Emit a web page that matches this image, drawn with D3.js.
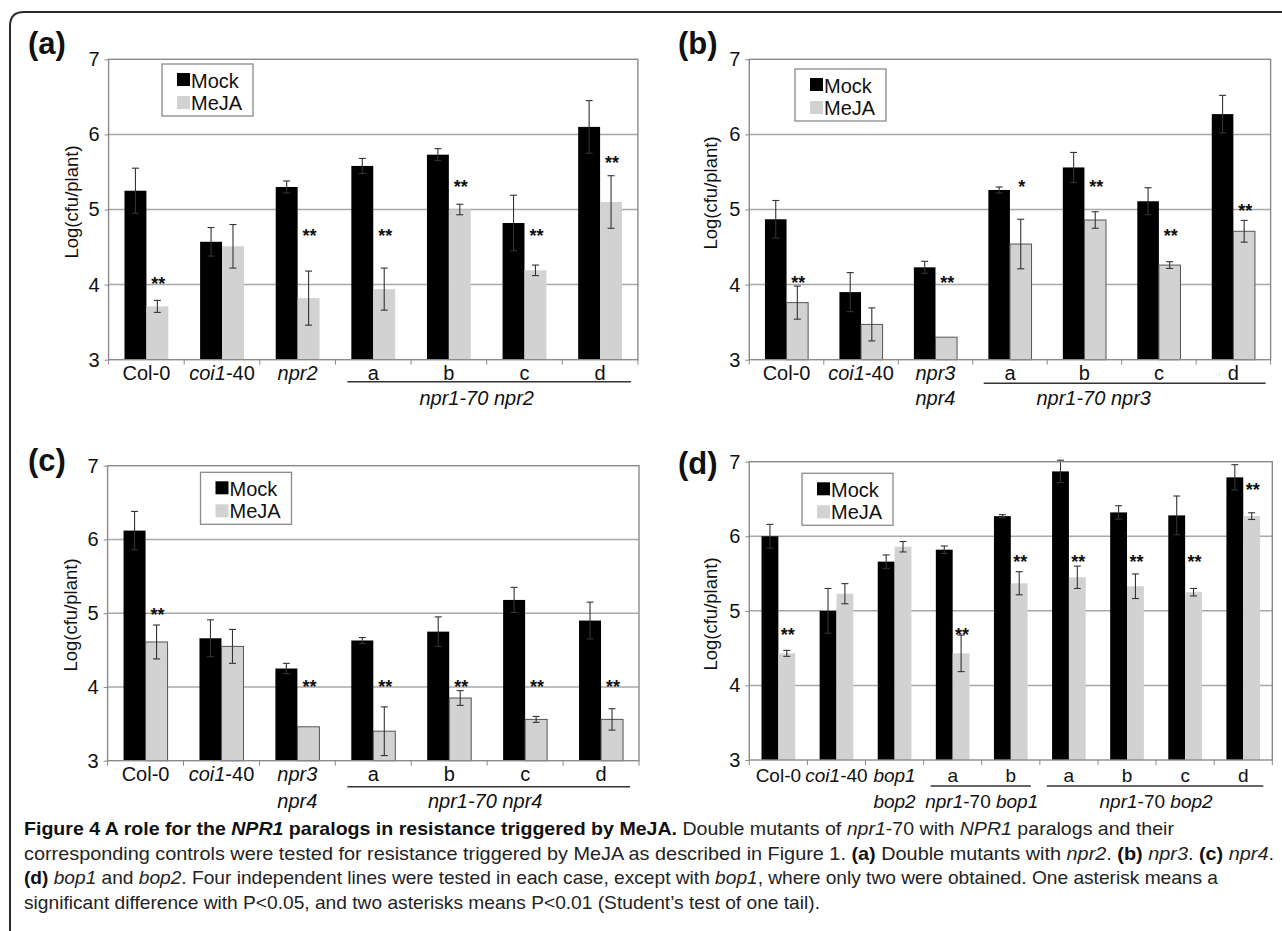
<!DOCTYPE html>
<html>
<head>
<meta charset="utf-8">
<script src="https://cdn.jsdelivr.net/npm/d3@7"></script>
<style>
  html, body { margin: 0; padding: 0; background: #fff; }
  svg { display: block; }
  text { font-family: "Liberation Sans", Arial, sans-serif; }
</style>
</head>
<body>
<svg id="fig" width="1282" height="931"></svg>
<script>
// ---------------- DATA ----------------
const yTicks = [3, 4, 5, 6, 7];
const seriesNames = ["Mock", "MeJA"];

// Panel (a)
const catsA = ["Col-0", "*coi1*-40", "*npr2*", "a", "b", "c", "d"];
const mockA = [5.25, 4.57, 5.30, 5.58, 5.73, 4.82, 6.10];
const mockErrA = [0.30, 0.19, 0.08, 0.10, 0.08, 0.37, 0.35];
const mejaA = [3.71, 4.51, 3.82, 3.94, 5.00, 4.19, 5.10];
const mejaErrA = [0.08, 0.29, 0.36, 0.28, 0.07, 0.07, 0.35];
const sigA = ["**", "", "**", "**", "**", "**", "**"];
const sigYA = [4.06, null, 4.70, 4.70, 5.35, 4.70, 5.67];
const groupsA = [{ from: 3, to: 6, label: "*npr1-70 npr2*" }];

// Panel (b)
const catsB = ["Col-0", "*coi1*-40", "*npr3*\n*npr4*", "a", "b", "c", "d"];
const mockB = [4.87, 3.90, 4.23, 5.26, 5.56, 5.11, 6.27];
const mockErrB = [0.25, 0.26, 0.08, 0.04, 0.20, 0.18, 0.25];
const mejaB = [3.76, 3.47, 3.30, 4.54, 4.86, 4.26, 4.71];
const mejaErrB = [0.22, 0.22, 0, 0.33, 0.11, 0.045, 0.145];
const sigB = ["**", "", "**", "*", "**", "**", "**"];
const sigYB = [4.07, null, 4.07, 5.35, 5.35, 4.70, 5.03];
const groupsB = [{ from: 3, to: 6, label: "*npr1-70 npr3*" }];

// Panel (c)
const catsC = ["Col-0", "*coi1*-40", "*npr3*\n*npr4*", "a", "b", "c", "d"];
const mockC = [6.12, 4.66, 4.25, 4.63, 4.75, 5.18, 4.90];
const mockErrC = [0.26, 0.25, 0.07, 0.04, 0.20, 0.17, 0.25];
const mejaC = [4.61, 4.55, 3.46, 3.40, 3.85, 3.56, 3.56];
const mejaErrC = [0.23, 0.23, 0, 0.33, 0.10, 0.04, 0.145];
const sigC = ["**", "", "**", "**", "**", "**", "**"];
const sigYC = [5.03, null, 4.05, 4.05, 4.05, 4.05, 4.05];
const groupsC = [{ from: 3, to: 6, label: "*npr1-70 npr4*" }];

// Panel (d)
const catsD = ["Col-0", "*coi1*-40", "*bop1*\n*bop2*", "a", "b", "a", "b", "c", "d"];
const mockD = [6.00, 5.00, 5.66, 5.82, 6.27, 6.87, 6.32, 6.28, 6.79];
const mockErrD = [0.16, 0.30, 0.09, 0.05, 0.02, 0.15, 0.09, 0.26, 0.17];
const mejaD = [4.43, 5.23, 5.86, 4.43, 5.37, 5.45, 5.33, 5.25, 6.27];
const mejaErrD = [0.04, 0.135, 0.07, 0.245, 0.155, 0.15, 0.165, 0.05, 0.045];
const sigD = ["**", "", "", "**", "**", "**", "**", "**", "**"];
const sigYD = [4.73, null, null, 4.73, 5.71, 5.71, 5.71, 5.71, 6.68];
const groupsD = [
  { from: 3, to: 4, label: "*npr1*-70 *bop1*" },
  { from: 5, to: 8, label: "*npr1*-70 *bop2*" }
];

const captionLines = [
  "**Figure 4 A role for the _NPR1_ paralogs in resistance triggered by MeJA.** Double mutants of _npr1_-70 with _NPR1_ paralogs and their",
  "corresponding controls were tested for resistance triggered by MeJA as described in Figure 1. **(a)** Double mutants with _npr2_. **(b)** _npr3_. **(c)** _npr4_.",
  "**(d)** _bop1_ and _bop2_. Four independent lines were tested in each case, except with _bop1_, where only two were obtained. One asterisk means a",
  "significant difference with P<0.05, and two asterisks means P<0.01 (Student\u2019s test of one tail)."
];

// ---------------- LAYOUT ----------------
const panels = [
  { tag: "(a)", tagX: 28, tagY: 54, left: 108.6, right: 637.9, top: 59.3, bottom: 359.7,
    legX: 162, legY: 64, titleX: 71, titleY: 202, row1: 13, uline: 22, row2: 38, mejaStroke: false, lblSize: 20,
    cats: catsA, mock: mockA, mockErr: mockErrA, meja: mejaA, mejaErr: mejaErrA, sig: sigA, sigY: sigYA, groups: groupsA,
    ulIn: [12, 7], glShift: -10 },
  { tag: "(b)", tagX: 678, tagY: 54, left: 749.3, right: 1270.6, top: 59.3, bottom: 359.7,
    legX: 795, legY: 69, titleX: 710, titleY: 193, row1: 13, uline: 23.5, row2: 38, mejaStroke: true, lblSize: 20,
    cats: catsB, mock: mockB, mockErr: mockErrB, meja: mejaB, mejaErr: mejaErrB, sig: sigB, sigY: sigYB, groups: groupsB,
    ulIn: [11, 5], glShift: -28 },
  { tag: "(c)", tagX: 28, tagY: 471, left: 107.6, right: 639, top: 465.7, bottom: 760.7,
    legX: 200.5, legY: 472.3, titleX: 70, titleY: 615, row1: 13, uline: 26, row2: 40, mejaStroke: true, lblSize: 20,
    cats: catsC, mock: mockC, mockErr: mockErrC, meja: mejaC, mejaErr: mejaErrC, sig: sigC, sigY: sigYC, groups: groupsC,
    ulIn: [12, 9], glShift: -2 },
  { tag: "(d)", tagX: 678, tagY: 474, left: 749.3, right: 1272.3, top: 461.7, bottom: 760,
    legX: 802, legY: 473.3, titleX: 710, titleY: 614, row1: 15, uline: 26, row2: 41, mejaStroke: false, lblSize: 19,
    cats: catsD, mock: mockD, mockErr: mockErrD, meja: mejaD, mejaErr: mejaErrD, sig: sigD, sigY: sigYD, groups: groupsD,
    ulIn: [7, 9], glShift: 0 }
];

const svg = d3.select("#fig");
const GRAY = "#d2d2d2";

// figure border
svg.append("path")
  .attr("d", "M10,945 L10,26 Q10,12 24,12 L1300,12")
  .attr("fill", "none").attr("stroke", "#2a2a2a").attr("stroke-width", 2);

function segs(s, mark) {
  const re = mark === "*" ? /(\*[^*]+\*)/ : /(\*\*[^*]+\*\*|_[^_]+_)/;
  return s.split(re).filter(t => t.length);
}

function addRich(textSel, s) {
  segs(s, "*").forEach(t => {
    const it = t.startsWith("*");
    textSel.append("tspan").attr("font-style", it ? "italic" : "normal").text(it ? t.slice(1, -1) : t);
  });
}

panels.forEach(p => {
  const n = p.cats.length;
  const g = svg.append("g");
  const x = d3.scaleBand().domain(d3.range(n)).range([p.left, p.right]).paddingInner(0).paddingOuter(0);
  const y = d3.scaleLinear().domain([3, 7]).range([p.bottom, p.top]);
  const w = x.bandwidth() / 3.45;

  // panel tag
  g.append("text").attr("x", p.tagX).attr("y", p.tagY)
    .attr("font-size", 31).attr("font-weight", "bold").attr("fill", "#111").text(p.tag);

  // plot bg + grid
  g.append("rect").attr("x", p.left).attr("y", p.top).attr("width", p.right - p.left).attr("height", p.bottom - p.top)
    .attr("fill", "#fff");
  g.selectAll(".grid").data(yTicks.slice(1, -1)).join("line")
    .attr("x1", p.left).attr("x2", p.right).attr("y1", d => y(d)).attr("y2", d => y(d))
    .attr("stroke", "#a8a8a8").attr("stroke-width", 1.5);

  // y axis
  const ya = g.append("g").attr("transform", `translate(${p.left},0)`)
    .call(d3.axisLeft(y).tickValues(yTicks).tickSize(4).tickPadding(5).tickFormat(d3.format("d")));
  ya.select(".domain").remove();
  ya.selectAll(".tick line").attr("stroke", "#888");
  ya.selectAll(".tick text").attr("font-size", 20).attr("fill", "#111")
    .attr("font-family", "'Liberation Sans', Arial, sans-serif");

  // y title
  g.append("text").attr("transform", `translate(${p.titleX},${p.titleY}) rotate(-90)`)
    .attr("text-anchor", "middle").attr("dominant-baseline", "central")
    .attr("font-size", 18.5).attr("fill", "#111").text("Log(cfu/plant)");

  // bars
  const idx = d3.range(n);
  g.selectAll(".mock").data(idx).join("rect")
    .attr("x", i => x(i) + x.bandwidth() / 2 - w).attr("width", w)
    .attr("y", i => y(p.mock[i])).attr("height", i => y(3) - y(p.mock[i]))
    .attr("fill", "#000");
  g.selectAll(".meja").data(idx).join("rect")
    .attr("x", i => x(i) + x.bandwidth() / 2).attr("width", w)
    .attr("y", i => y(p.meja[i])).attr("height", i => y(3) - y(p.meja[i]))
    .attr("fill", GRAY)
    .attr("stroke", p.mejaStroke ? "#555" : "none").attr("stroke-width", p.mejaStroke ? 1 : 0);

  // error bars
  function errBars(vals, errs, cxOff) {
    const eg = g.append("g").attr("stroke", "#333").attr("stroke-width", 1.1);
    idx.filter(i => errs[i] > 0).forEach(i => {
      const cx = x(i) + x.bandwidth() / 2 + cxOff;
      const y1 = y(vals[i] + errs[i]), y2 = y(vals[i] - errs[i]);
      eg.append("line").attr("x1", cx).attr("x2", cx).attr("y1", y1).attr("y2", y2);
      eg.append("line").attr("x1", cx - 3.5).attr("x2", cx + 3.5).attr("y1", y1).attr("y2", y1);
      eg.append("line").attr("x1", cx - 3.5).attr("x2", cx + 3.5).attr("y1", y2).attr("y2", y2);
    });
  }
  errBars(p.mock, p.mockErr, -w / 2);
  errBars(p.meja, p.mejaErr, w / 2);

  // significance stars
  g.selectAll(".sig").data(idx.filter(i => p.sig[i])).join("text")
    .attr("x", i => x(i) + x.bandwidth() / 2 + w / 2 + 1)
    .attr("y", i => y(p.sigY[i]) + 10)
    .attr("text-anchor", "middle").attr("font-size", 18).attr("font-weight", "bold").attr("fill", "#111")
    .text(i => p.sig[i]);

  // frame
  g.append("rect").attr("x", p.left).attr("y", p.top).attr("width", p.right - p.left).attr("height", p.bottom - p.top)
    .attr("fill", "none").attr("stroke", "#8a8a8a").attr("stroke-width", 1.4);

  // x ticks at band boundaries
  const bounds = d3.range(n + 1).map(i => i < n ? x(i) : x(n - 1) + x.bandwidth());
  g.selectAll(".xt").data(bounds).join("line")
    .attr("x1", d => d).attr("x2", d => d).attr("y1", p.bottom).attr("y2", p.bottom + 5)
    .attr("stroke", "#888").attr("stroke-width", 1);

  // x labels
  idx.forEach(i => {
    const lines = p.cats[i].split("\n");
    lines.forEach((ln, k) => {
      const t = g.append("text").attr("x", x(i) + x.bandwidth() / 2)
        .attr("y", p.bottom + (k === 0 ? p.row1 : p.row2))
        .attr("text-anchor", "middle").attr("dominant-baseline", "central")
        .attr("font-size", p.lblSize).attr("fill", "#111");
      addRich(t, ln);
    });
  });

  // group underlines + labels
  p.groups.forEach(gr => {
    const x0 = x(gr.from) + p.ulIn[0], x1 = x(gr.to) + x.bandwidth() - p.ulIn[1];
    g.append("line").attr("x1", x0).attr("x2", x1).attr("y1", p.bottom + p.uline).attr("y2", p.bottom + p.uline)
      .attr("stroke", "#333").attr("stroke-width", 1.5);
    const t = g.append("text").attr("x", (x(gr.from) + x(gr.to) + x.bandwidth()) / 2 + p.glShift)
      .attr("y", p.bottom + p.row2).attr("text-anchor", "middle").attr("dominant-baseline", "central")
      .attr("font-size", p.lblSize).attr("fill", "#111");
    addRich(t, gr.label);
  });

  // legend
  const lg = g.append("g").attr("transform", `translate(${p.legX},${p.legY})`);
  lg.append("rect").attr("width", 91).attr("height", 52).attr("fill", "#fff")
    .attr("stroke", "#8a8a8a").attr("stroke-width", 1.3);
  seriesNames.forEach((s, k) => {
    lg.append("rect").attr("x", 15).attr("y", 9 + k * 23).attr("width", 13).attr("height", 13)
      .attr("fill", k === 0 ? "#000" : GRAY);
    lg.append("text").attr("x", 29).attr("y", 23.5 + k * 22).attr("font-size", 20).attr("fill", "#111").text(s);
  });
});

// caption
const capY = [835, 859.5, 884, 908.5];
const capW = [1150, 1250, 1194, 796];
captionLines.forEach((ln, k) => {
  const t = svg.append("text").attr("x", 24).attr("y", capY[k])
    .attr("font-size", 18.5).attr("fill", "#222")
    .attr("font-family", "'Liberation Sans Narrow', 'DejaVu Sans Condensed', 'Liberation Sans', sans-serif")
    .attr("textLength", capW[k]).attr("lengthAdjust", "spacingAndGlyphs");
  segs(ln, "_").forEach(s => {
    if (s.startsWith("**")) {
      const inner = s.slice(2, -2);
      inner.split(/(_[^_]+_)/).filter(u => u).forEach(u => {
        const it = u.startsWith("_");
        t.append("tspan").attr("font-weight", "bold").attr("fill", "#111")
          .attr("font-style", it ? "italic" : "normal").text(it ? u.slice(1, -1) : u);
      });
    } else if (s.startsWith("_")) {
      t.append("tspan").attr("font-style", "italic").text(s.slice(1, -1));
    } else {
      t.append("tspan").text(s);
    }
  });
});
</script>
</body>
</html>
